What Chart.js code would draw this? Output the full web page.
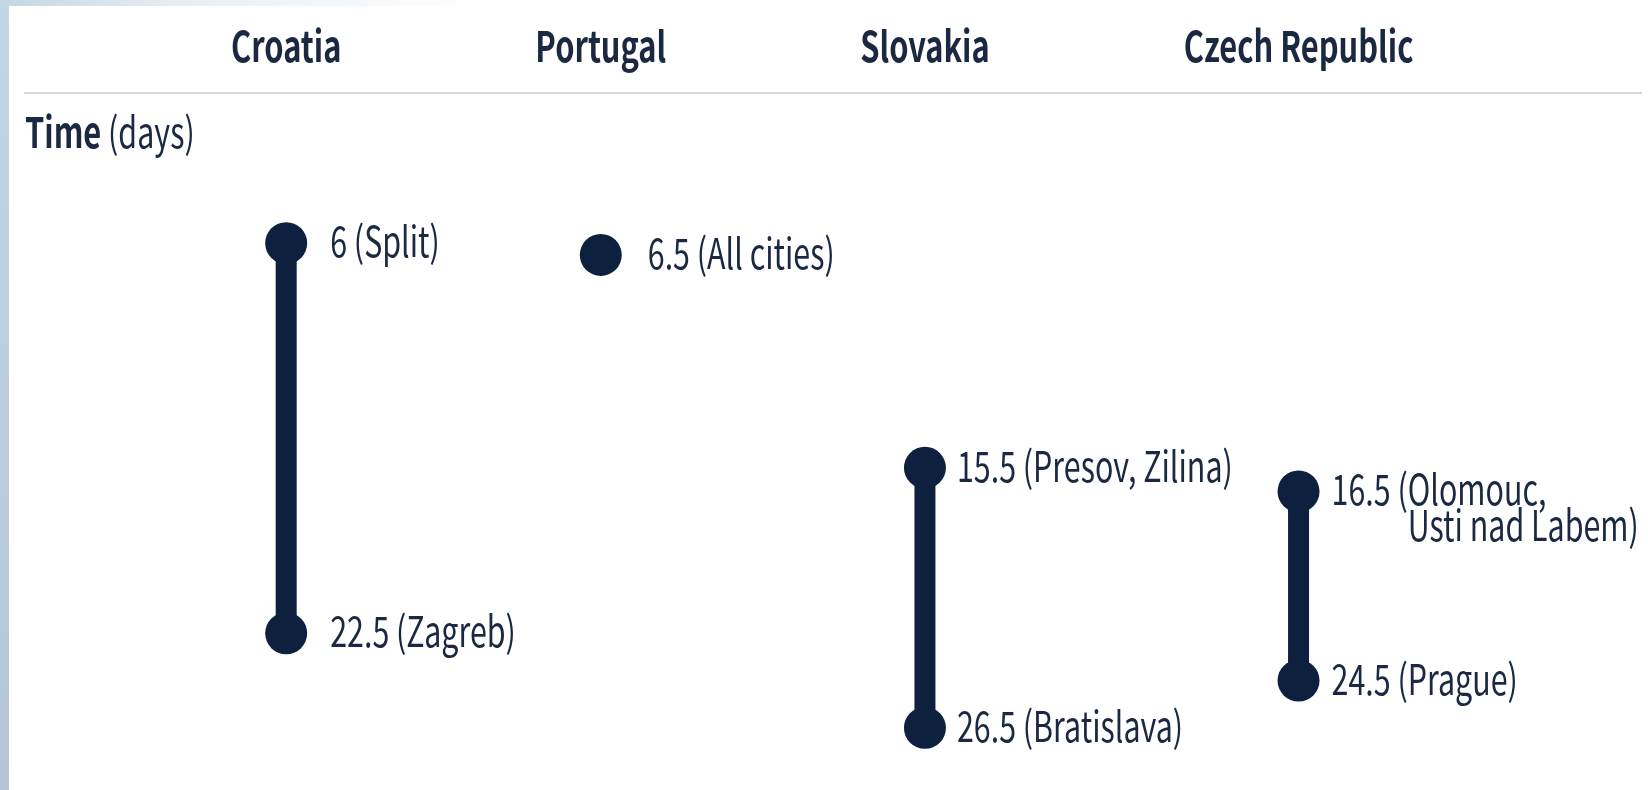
<!DOCTYPE html>
<html><head><meta charset="utf-8">
<script src="https://cdn.jsdelivr.net/npm/chart.js@4.4.1/dist/chart.umd.min.js"></script>
<style>
html,body{margin:0;padding:0;background:#fff;overflow:hidden;}
#wrap{position:relative;width:1648px;height:790px;}
#strip{position:absolute;left:0;top:0;width:9px;height:790px;background:linear-gradient(#c3d6e3,#b7c5d3);}
#band{position:absolute;left:0;top:0;width:1648px;height:6px;background:linear-gradient(90deg,#c3d6e3 0px,#e6edf3 170px,#ffffff 480px);}
canvas{position:absolute;left:0;top:0;}
</style></head><body>
<div id="wrap"><div id="strip"></div><div id="band"></div><canvas id="c" width="1648" height="790"></canvas></div>
<script>
// ---- data ----
const categories = ['Croatia', 'Portugal', 'Slovakia', 'Czech Republic'];
const minDays   = [6, 6.5, 15.5, 16.5];
const maxDays   = [22.5, null, 26.5, 24.5];
const minCities = ['Split', 'All cities', 'Presov, Zilina', 'Olomouc,\nUsti nad Labem'];
const maxCities = ['Zagreb', null, 'Bratislava', 'Prague'];
const axisTitleBold = 'Time';
const axisTitleRest = ' (days)';

// ---- style ----
const FONT = '"Noto Sans CJK JP", "Noto Sans", "DejaVu Sans Condensed", sans-serif';
const SIZE = 42;
const SX_BOLD = 0.734, SX_REG = 0.724;   // condensed look
const CAP = 14;            // baseline offset from visual centre
const NAVY = '#0d213f';
const TEXT = '#1a2842';
const labelOffsets = [44, 47, 32, 33];
const LINE_H = 36;
const FIRST_START = 207;   // left edge of first header label from plot left
const GAP = 194;           // gap between header labels
const PLOT_LEFT = 24, PLOT_RIGHT_PAD = 21;
const PLOT_W = 1648 - PLOT_LEFT - PLOT_RIGHT_PAD;
const HEADER_Y = 48, TITLE_X = 25, TITLE_Y = 134;
const RULE_LEFT = 24, RULE_RIGHT = 1642;

function fontStr(bold) { return `${bold ? 'bold ' : ''}${SIZE}px ${FONT}`; }
function textW(ctx, t, bold) { ctx.font = fontStr(bold); return ctx.measureText(t).width * (bold ? SX_BOLD : SX_REG); }
function drawText(ctx, t, x, y, bold, align) {
  const w = textW(ctx, t, bold);
  let left = x;
  if (align === 'center') left = x - w / 2;
  ctx.save();
  ctx.font = fontStr(bold);
  ctx.textAlign = 'left';
  ctx.textBaseline = 'alphabetic';
  ctx.translate(left, y + CAP);
  ctx.scale(bold ? SX_BOLD : SX_REG, 1);
  ctx.fillText(t, 0, 0);
  ctx.restore();
  return w;
}

// header label layout -> column centres (derived from label widths)
const mctx = document.createElement('canvas').getContext('2d');
const colPos = [];
{
  let cur = FIRST_START;
  categories.forEach(c => {
    const w = textW(mctx, c, true);
    colPos.push(cur + w / 2);
    cur += w + GAP;
  });
}

function makeLabel(v, city) {
  return `${v} (${city})`.split('\n');
}

const datasets = categories.map((c, i) => {
  const pts = [{x: colPos[i], y: minDays[i]}];
  const labs = [makeLabel(minDays[i], minCities[i])];
  if (maxDays[i] !== null) {
    pts.push({x: colPos[i], y: maxDays[i]});
    labs.push(makeLabel(maxDays[i], maxCities[i]));
  }
  return {
    label: c,
    data: pts,
    pointLabels: labs,
    labelOffset: labelOffsets[i],
    borderColor: NAVY,
    backgroundColor: NAVY,
    pointBackgroundColor: NAVY,
    pointBorderWidth: 0,
    borderWidth: 21,
    pointRadius: 21,
    showLine: true,
    borderCapStyle: 'butt',
    clip: false
  };
});

const textPlugin = {
  id: 'textPlugin',
  beforeDraw(chart) {
    const ctx = chart.ctx;
    const y = chart.scales.x.bottom;
    ctx.save();
    ctx.strokeStyle = '#d4d6da';
    ctx.lineWidth = 2;
    ctx.beginPath();
    ctx.moveTo(RULE_LEFT, y);
    ctx.lineTo(RULE_RIGHT, y);
    ctx.stroke();
    ctx.restore();
  },
  afterDraw(chart) {
    const ctx = chart.ctx;
    ctx.save();
    ctx.fillStyle = TEXT;
    const xs = chart.scales.x;
    categories.forEach((c, i) => {
      drawText(ctx, c, xs.getPixelForValue(colPos[i]), HEADER_Y, true, 'center');
    });
    const w = drawText(ctx, axisTitleBold, TITLE_X, TITLE_Y, true, 'left');
    drawText(ctx, axisTitleRest, TITLE_X + w, TITLE_Y, false, 'left');
    chart.data.datasets.forEach((ds, di) => {
      const meta = chart.getDatasetMeta(di);
      meta.data.forEach((pt, pi) => {
        const lines = ds.pointLabels[pi];
        const x = pt.x + ds.labelOffset;
        const first = lines[0];
        const indent = textW(ctx, first.slice(0, first.indexOf('(') + 1), false);
        lines.forEach((ln, li) => {
          drawText(ctx, ln, x + (li ? indent : 0), pt.y + li * LINE_H, false, 'left');
        });
      });
    });
    ctx.restore();
  }
};

new Chart(document.getElementById('c'), {
  type: 'line',
  data: { datasets },
  options: {
    responsive: false,
    animation: false,
    devicePixelRatio: 1,
    layout: { padding: { left: PLOT_LEFT, right: PLOT_RIGHT_PAD, top: 0, bottom: 21 } },
    plugins: { legend: { display: false }, tooltip: { enabled: false } },
    events: [],
    scales: {
      x: {
        type: 'linear',
        position: 'top',
        min: 0,
        max: PLOT_W,
        grid: { display: false, drawTicks: false },
        border: { display: false },
        afterBuildTicks: (s) => { s.ticks = colPos.map(v => ({ value: v })); },
        afterFit: (s) => { s.height = 93; },
        ticks: { display: false }
      },
      y: {
        type: 'linear',
        reverse: true,
        min: -0.35,
        max: 28.24,
        display: false
      }
    }
  },
  plugins: [textPlugin]
});
</script>
</body></html>
